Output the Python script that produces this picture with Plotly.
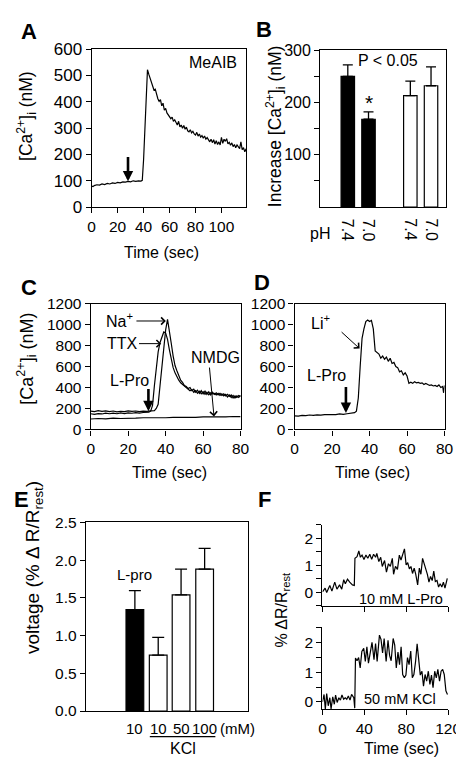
import plotly.graph_objects as go

W, H = 464, 764
def px(x): return x / W
def py(y): return 1 - y / H
def dom_x(a, b): return [a / W, b / W]
def dom_y(top, bottom): return [1 - bottom / H, 1 - top / H]

FONT = "Arial, Liberation Sans, Helvetica, sans-serif"
TS = 15.5  # tick font size

# ---------------- data ----------------
# Panel A: MeAIB response
a_time = [0, 1, 2, 4, 6, 8, 10, 12, 14, 16, 18, 20, 22, 24, 26, 28, 30, 32, 34, 36, 38, 39,
          40, 41, 42, 43, 44, 45, 46, 47, 48, 49, 50, 51, 52, 53, 54, 55, 56, 57, 58, 59,
          60, 61, 62, 63, 64, 65, 66, 67, 68, 69, 70, 71, 72, 73, 74, 75, 76, 77, 78, 79,
          80, 81, 82, 83, 84, 85, 86, 87, 88, 89, 90, 91, 92, 93, 94, 95, 96, 97, 98, 99,
          100, 101, 102, 103, 104, 105, 106, 107, 108, 109, 110, 111, 112, 113, 114, 115,
          116, 117, 118, 119]
a_ca = [80, 78, 82, 85, 84, 88, 86, 90, 88, 92, 90, 94, 92, 96, 95, 98, 96, 100, 98, 100, 99, 102,
        180, 300, 420, 522, 505, 490, 472, 458, 445, 448, 425, 412, 402, 408, 385, 395, 368, 375, 358, 352,
        345, 336, 342, 326, 332, 320, 312, 326, 305, 312, 300, 310, 296, 304, 290, 286, 294, 282, 288, 278,
        274, 284, 270, 278, 266, 272, 262, 270, 258, 264, 254, 248, 258, 245, 256, 240, 252, 238, 248, 236,
        265, 242, 258, 250, 260, 240, 246, 235, 244, 230, 238, 226, 236, 228, 222, 248,
        218, 226, 210, 222]
a_arrow_t = 28

# Panel B: increase in [Ca2+]i
b_pos = [1.33, 2.33, 4.35, 5.35]
b_ph = ["7.4", "7.0", "7.4", "7.0"]
b_increase = [250, 168, 213, 232]
b_err = [22, 14, 28, 36]
b_fill = ["black", "black", "white", "white"]

# Panel C: L-Pro responses
c_na_time = [0, 2, 4, 6, 8, 10, 12, 14, 16, 18, 20, 22, 24, 26, 28, 30, 32, 34, 35, 36, 37, 38, 39,
             40, 41, 42, 43, 44, 45, 46, 47, 48, 49, 50, 51, 52, 53, 54, 55, 56, 57, 58, 59, 60,
             61, 62, 63, 64, 65, 66, 67, 68, 69, 70, 71, 72, 73, 74, 75, 76, 77, 78, 79, 80]
c_na = [175, 170, 180, 172, 178, 170, 176, 168, 174, 170, 178, 172, 176, 170, 175, 172, 178, 180, 200, 240, 420, 620, 800,
        950, 1050, 950, 820, 700, 610, 560, 510, 470, 450, 420, 410, 390, 400, 370, 385, 355, 375, 345, 370, 340,
        365, 335, 360, 330, 355, 335, 350, 330, 345, 325, 340, 320, 335, 315, 330, 300, 320, 305, 325, 315]
c_ttx_time = [0, 2, 4, 6, 8, 10, 12, 14, 16, 18, 20, 22, 24, 26, 28, 30, 31, 32, 33, 34, 35, 36, 37, 38, 39,
              40, 41, 42, 43, 44, 45, 46, 47, 48, 49, 50, 51, 52, 53, 54, 55, 56, 57, 58, 59, 60,
              61, 62, 63, 64, 65, 66, 67, 68, 69, 70, 71, 72, 73, 74, 75, 76, 77, 78, 79, 80]
c_ttx = [150, 145, 152, 148, 155, 150, 155, 150, 158, 152, 158, 155, 160, 156, 162, 160, 165, 175, 230, 420, 600, 740, 830, 890, 930,
         920, 860, 760, 660, 590, 540, 500, 470, 445, 430, 410, 395, 380, 370, 380, 355, 370, 345, 365, 340, 360,
         335, 355, 330, 350, 340, 345, 330, 345, 325, 340, 320, 335, 310, 330, 305, 325, 300, 320, 305, 325]
c_nmdg_time = [0, 4, 8, 12, 16, 20, 24, 28, 32, 36, 40, 44, 48, 52, 56, 60, 64, 68, 72, 76, 80]
c_nmdg = [100, 105, 102, 108, 105, 110, 108, 112, 110, 115, 112, 116, 114, 118, 115, 120, 118, 122, 120, 124, 122]

# Panel D: Li+ response
d_time = [0, 2, 4, 6, 8, 10, 12, 14, 16, 18, 20, 22, 24, 26, 28, 30, 32, 33, 34, 35, 36, 37, 38, 39,
          40, 41, 42, 43, 44, 45, 46, 47, 48, 49, 50, 51, 52, 53, 54, 55, 56, 57, 58, 59, 60,
          61, 62, 63, 64, 65, 66, 67, 68, 69, 70, 71, 72, 73, 74, 75, 76, 77, 78, 79, 79.5, 80]
d_ca = [130, 128, 135, 132, 138, 135, 140, 137, 142, 140, 145, 142, 148, 145, 150, 152, 160, 175, 300, 600, 870, 960, 1030, 1045,
        1030, 1040, 960, 750, 730, 720, 680, 700, 670, 690, 650, 680, 630, 640, 600, 590, 550, 560, 520, 540, 510,
        440, 450, 440, 455, 445, 450, 440, 445, 430, 440, 430, 420, 425, 415, 420, 410, 425, 400, 410, 350, 420]

# Panel E: voltage responses
e_pos = [2.1, 3.1, 4.08, 5.09]
e_conc = ["10", "10", "50", "100"]
e_voltage = [1.345, 0.74, 1.54, 1.88]
e_err = [0.25, 0.235, 0.34, 0.275]
e_fill = ["black", "white", "white", "white"]

# Panel F: voltage traces
f1_time = [0, 2.5, 4, 7, 9, 11.7, 13.8, 16.3, 18.4, 20.3, 21.8, 23.9, 26, 28.6, 30.4, 31, 33, 34.7, 36.2, 37.8,
           39.6, 41.5, 43.3, 45.2, 47, 48.8, 50.7, 51.9, 53.8, 55.6, 57.1, 59.3, 61.1, 63, 64.8, 66.7, 67.9,
           69.7, 71.6, 73.4, 75, 76.8, 78.3, 79.9, 81.4, 83, 84.5, 86, 87.6, 89.1, 90.9, 92.5, 94, 95.6, 97.1,
           98.6, 100.2, 101.7, 103.2, 104.8, 106.3, 107.8, 109.4, 110.9, 112.4, 114, 115.5, 117, 119.2]
f1_val = [0.02, 0.16, 0.0, 0.26, 0.05, 0.38, 0.12, 0.28, 0.12, 0.47, 0.32, 0.49, 0.38, 0.28, 0.26, 1.26, 1.32, 1.53, 1.3, 1.38,
          1.22, 1.38, 1.26, 1.41, 1.22, 1.41, 1.3, 1.44, 1.14, 1.3, 0.96, 1.18, 0.75, 1.06, 0.96, 1.26, 0.67,
          0.96, 0.85, 1.38, 1.2, 1.44, 1.61, 1.02, 1.1, 0.87, 0.96, 0.7, 0.9, 0.67, 0.28, 0.9, 0.67, 1.26, 1.08,
          0.85, 0.67, 0.38, 0.59, 0.44, 0.79, 0.4, 0.44, 0.2, 0.32, 0.2, 0.38, 0.16, 0.52]
f2_time = [0, 1.5, 2.7, 4, 5.5, 7, 8.2, 9.8, 11.3, 12.5, 14, 15.6, 17.1, 18.6, 20.2, 21.7, 23.2, 24.7, 26.3, 27.8,
           29.9, 30.8, 31.5, 33, 34.5, 36, 37.6, 39.4, 40.9, 42.4, 43.9, 45.8, 47.3, 49.2, 50.7, 52.2, 54.4,
           55.9, 57.4, 58.9, 60.8, 62.6, 64.1, 65.6, 67.5, 69, 70.5, 72.1, 73.6, 75.1, 76.6, 78.2, 79.7, 81.2,
           82.7, 84.3, 85.8, 87.3, 88.9, 90.4, 91.9, 93.4, 95, 96.5, 98, 99.5, 101.1, 102.6, 104.1, 105.6,
           107.2, 108.7, 110.2, 111.8, 113.3, 114.8, 116.3, 117.9, 119.4]
f2_val = [0.0, 0.25, -0.24, 0.28, -0.13, 0.14, -0.24, 0.17, -0.08, 0.23, -0.02, 0.14, 0.06, 0.23, 0.09, 0.14, 0.09, 0.2, 0.06, 0.25,
          0.14, -0.21, 1.47, 1.38, 1.49, 1.14, 1.69, 1.8, 1.36, 1.85, 1.3, 1.64, 2.0, 1.42, 1.96, 1.36, 2.24,
          2.1, 1.64, 2.13, 1.36, 2.07, 1.56, 1.38, 2.13, 1.91, 1.14, 1.67, 1.25, 1.85, 0.92, 0.81, 0.9, 1.49,
          1.25, 1.71, 0.81, 0.92, 1.35, 1.95, 1.5, 0.9, 1.03, 0.53, 0.92, 0.7, 1.03, 0.59, 0.9, 0.48,
          1.03, 0.81, 1.09, 0.7, 1.03, 1.09, 0.92, 0.37, 0.25]

# ---------------- figure ----------------
fig = go.Figure()
LINE = dict(color="black", width=1.2)

fig.add_trace(go.Scatter(x=a_time, y=a_ca, mode="lines", line=LINE, xaxis="x", yaxis="y"))

fig.add_trace(go.Bar(x=b_pos, y=b_increase, width=0.65, xaxis="x2", yaxis="y2",
                     marker=dict(color=b_fill, line=dict(color="black", width=1.2)),
                     error_y=dict(type="data", symmetric=False, array=b_err, arrayminus=[0] * 4,
                                  width=5, thickness=1.3, color="black")))

fig.add_trace(go.Scatter(x=c_na_time, y=c_na, mode="lines", line=LINE, xaxis="x3", yaxis="y3"))
fig.add_trace(go.Scatter(x=c_ttx_time, y=c_ttx, mode="lines", line=LINE, xaxis="x3", yaxis="y3"))
fig.add_trace(go.Scatter(x=c_nmdg_time, y=c_nmdg, mode="lines", line=LINE, xaxis="x3", yaxis="y3"))

fig.add_trace(go.Scatter(x=d_time, y=d_ca, mode="lines", line=LINE, xaxis="x4", yaxis="y4"))

fig.add_trace(go.Bar(x=e_pos, y=e_voltage, width=0.76, xaxis="x5", yaxis="y5",
                     marker=dict(color=e_fill, line=dict(color="black", width=1.2)),
                     error_y=dict(type="data", symmetric=False, array=e_err, arrayminus=[0] * 4,
                                  width=6, thickness=1.3, color="black")))

fig.add_trace(go.Scatter(x=f1_time, y=f1_val, mode="lines", line=LINE, xaxis="x6", yaxis="y6"))
fig.add_trace(go.Scatter(x=f2_time, y=f2_val, mode="lines", line=LINE, xaxis="x7", yaxis="y7"))

MINOR = dict(ticks="outside", ticklen=5, tickwidth=1.2, tickcolor="black", showgrid=False)

def ax(domain, rng, anchor, mirror=True, size=TS, **kw):
    d = dict(domain=domain, range=rng, anchor=anchor, showline=True, linecolor="black", linewidth=1.3,
             mirror=mirror, ticks="outside", ticklen=5, tickwidth=1.2, tickcolor="black",
             showgrid=False, zeroline=False, tickfont=dict(family=FONT, size=size, color="black"))
    d.update(kw)
    return d

lay = dict(
    xaxis=ax(dom_x(82.7, 243), [0, 119], "y", dtick=20, tick0=0),
    yaxis=ax(dom_y(33, 195), [0, 600], "x", dtick=100, size=17),
    xaxis2=ax(dom_x(320, 450), [0, 6.05], "y2", ticks="", showticklabels=False),
    yaxis2=ax(dom_y(34, 195), [0, 300], "x2", tickvals=[100, 200, 300], size=16,
              minor=dict(tickvals=[50, 150, 250], **MINOR)),
    xaxis3=ax(dom_x(81.7, 237.3), [0, 80], "y3", dtick=20),
    yaxis3=ax(dom_y(294, 423), [0, 1200], "x3", dtick=200),
    xaxis4=ax(dom_x(293.3, 449), [0, 80], "y4", dtick=20),
    yaxis4=ax(dom_y(294, 423), [0, 1200], "x4", dtick=200),
    xaxis5=ax(dom_x(76.7, 245), [0, 6.95], "y5", ticks="", showticklabels=False),
    yaxis5=ax(dom_y(518.3, 711.7), [0, 2.5], "x5", dtick=0.5, tickformat=".1f"),
    xaxis6=ax(dom_x(322.3, 452.7), [0, 120], "y6", mirror=False, tickvals=[0, 40, 80, 120], showticklabels=False),
    yaxis6=ax(dom_y(520.7, 604), [-0.5, 2.5], "x6", mirror=False, tickvals=[0, 1, 2],
              minor=dict(tickvals=[-0.5, 0.5, 1.5, 2.5], **MINOR)),
    xaxis7=ax(dom_x(322.3, 452.7), [0, 120], "y7", mirror=False, tickvals=[0, 40, 80, 120]),
    yaxis7=ax(dom_y(626, 710), [-0.25, 2.5], "x7", mirror=False, tickvals=[0, 1, 2],
              minor=dict(tickvals=[0.5, 1.5, 2.5], **MINOR)),
)

ann = []
def txt(text, x, y, xref="paper", yref="paper", size=15.5, angle=0, bold=False, **kw):
    d = dict(text=("<b>%s</b>" % text) if bold else text, x=x, y=y, xref=xref, yref=yref,
             showarrow=False, textangle=angle, xanchor="center", yanchor="middle",
             font=dict(family=FONT, size=size, color="black"))
    d.update(kw)
    ann.append(d)

def arrow(x, y, tx, ty, xa, ya, thick=False):
    ann.append(dict(x=x, y=y, ax=tx, ay=ty, xref=xa, yref=ya, axref=xa, ayref=ya, text="",
                    showarrow=True, arrowcolor="black",
                    arrowhead=2 if thick else 4, arrowwidth=2.6 if thick else 1,
                    arrowsize=0.8 if thick else 1.4))

# panel letters
for L, x, y in [("A", 18, 15), ("B", 262, 13), ("C", 18, 277), ("D", 259, 272), ("E", 10, 495), ("F", 262, 495)]:
    txt(L, px(x), py(y), size=22, bold=True)

# axis titles
CA = "[Ca<sup>2+</sup>]<sub>i</sub> (nM)"
txt(CA, px(15), py(101), angle=-90, size=17.5)
txt("Time (sec)", px(155), py(241), size=16)
txt("Increase " + CA, px(273), py(112), angle=-90, size=17.5)
txt(CA, px(15), py(350), angle=-90, size=18)
txt("Time (sec)", px(163), py(467), size=16)
txt("Time (sec)", px(374), py(467), size=16)
txt("voltage (% \u0394 R/R<sub>rest</sub>)", px(23), py(565), angle=-90, size=19)
txt("% \u0394R/R<sub>rest</sub>", px(281), py(608), angle=-90, size=16)
txt("Time (sec)", px(404), py(750), size=16)

# panel A
txt("MeAIB", 93.5, 549, xref="x", yref="y", size=16)
arrow(a_arrow_t, 98, a_arrow_t, 196, "x", "y", thick=True)

# panel B
txt("P &lt; 0.05", 3.26, 280, xref="x2", yref="y2", size=16)
txt("*", b_pos[1], 200, xref="x2", yref="y2", size=21)
txt("pH", px(320), py(222), size=16)
for p, lab in zip(b_pos, b_ph):
    txt(lab, p, py(218), xref="x2", angle=90, size=16)

# panel C
txt("Na<sup>+</sup>", 15.6, 1042, xref="x3", yref="y3", size=16)
arrow(40.1, 1035, 23.6, 1035, "x3", "y3")
txt("TTX", 17.1, 819, xref="x3", yref="y3", size=16)
arrow(37.6, 819, 25.0, 819, "x3", "y3")
txt("NMDG", 66.7, 688, xref="x3", yref="y3", size=16)
arrow(65.8, 125, 63.3, 605, "x3", "y3")
txt("L-Pro", 20.6, 465, xref="x3", yref="y3", size=16)
arrow(30.8, 175, 30.8, 400, "x3", "y3", thick=True)

# panel D
txt("Li<sup>+</sup>", 13.7, 1027, xref="x4", yref="y4", size=16)
arrow(34.7, 772, 24.3, 942, "x4", "y4")
txt("L-Pro", 17.1, 512, xref="x4", yref="y4", size=16)
arrow(27.4, 158, 27.4, 419, "x4", "y4", thick=True)

# panel E
txt("L-pro", e_pos[0], 1.81, xref="x5", yref="y5", size=15)
for p, lab in zip(e_pos, e_conc):
    txt(lab, p, py(730), xref="x5", size=15)
txt("(mM)", 6.5, py(730), xref="x5", size=15)
txt("KCl", 4.15, py(750), xref="x5", size=16)

# panel F
txt("10 mM L-Pro", 74.7, -0.25, xref="x6", yref="y6", size=14.5)
txt("50 mM KCl", 74.4, 0.09, xref="x7", yref="y7", size=14.5)

shapes = [dict(type="line", xref="x5", yref="paper", x0=2.74, x1=5.55, y0=py(738), y1=py(738),
               line=dict(color="black", width=1.2))]

fig.update_layout(**lay)
fig.update_layout(width=W, height=H, margin=dict(l=0, r=0, t=0, b=0), autosize=False,
                  paper_bgcolor="white", plot_bgcolor="white", showlegend=False,
                  annotations=ann, shapes=shapes, font=dict(family=FONT, size=TS, color="black"))

fig.write_html("out.html")
